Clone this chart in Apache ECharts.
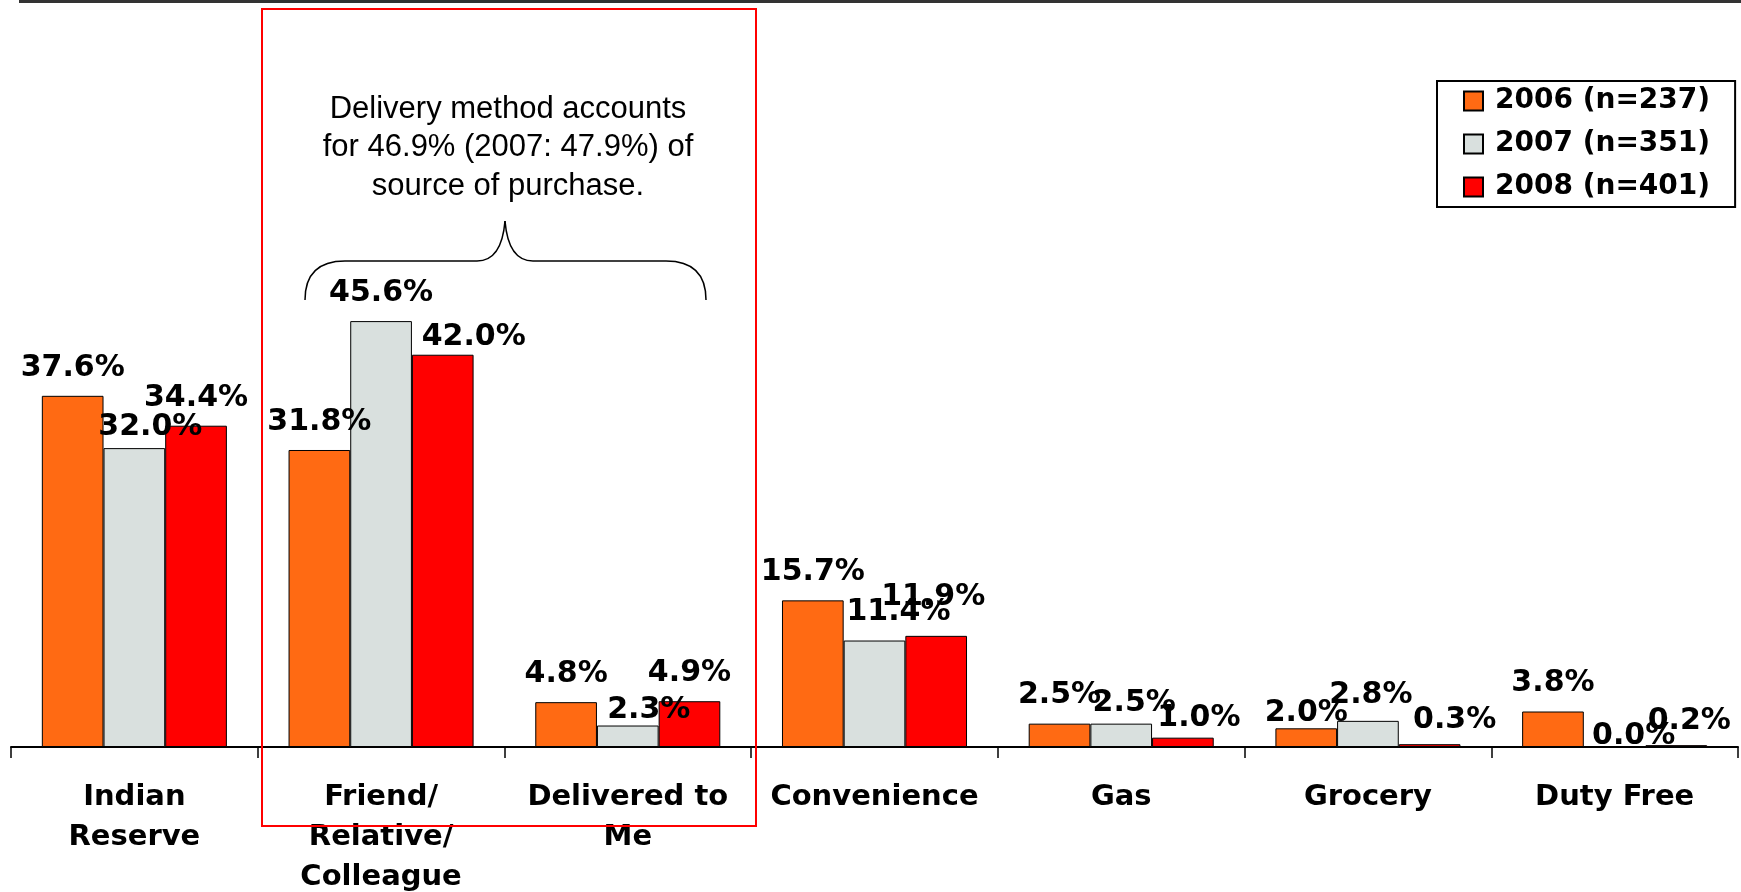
<!DOCTYPE html>
<html>
<head>
<meta charset="utf-8">
<script src="https://cdn.jsdelivr.net/npm/echarts@6/dist/echarts.min.js"></script>
<style>
  html, body { margin: 0; padding: 0; background: #fff; }
  #chart { width: 1741px; height: 892px; }
</style>
</head>
<body>
<div id="chart"></div>
<script>
const categories = ['Indian\nReserve', 'Friend/\nRelative/\nColleague', 'Delivered to\nMe', 'Convenience', 'Gas', 'Grocery', 'Duty Free']
const seriesNames = ['2006 (n=237)', '2007 (n=351)', '2008 (n=401)']
const values2006 = [37.6, 31.8, 4.8, 15.7, 2.5, 2.0, 3.8]
const values2007 = [32.0, 45.6, 2.3, 11.4, 2.5, 2.8, 0.0]
const values2008 = [34.4, 42.0, 4.9, 11.9, 1.0, 0.3, 0.2]
const noteLines = ['Delivery method accounts', 'for 46.9% (2007: 47.9%) of', 'source of purchase.']

// label nudges (px) so overlapping labels sit like in the original
const labelShift = [
  [[0, 0], [0, 0], [0, 0], [0, 0], [0, 0], [0, 13], [0, 0]],
  [[16, 7], [0, 0], [21, 13], [24, 0], [13, 8], [3, 2], [19, 18]],
  [[0, 0], [31, 10], [0, 0], [-3, -11], [16, 9], [25, 4], [13, 4]]
]
const colors = ['#FF6A13', '#D9E0DE', '#FF0000']

const chart = echarts.init(document.getElementById('chart'))

const makeSeries = (name, vals, idx) => ({
  name: name,
  type: 'bar',
  barGap: '0%',
  barCategoryGap: '25%',
  itemStyle: { color: colors[idx], borderColor: '#000', borderWidth: 1 },
  label: {
    show: true,
    position: 'top',
    distance: 13,
    formatter: p => p.value.toFixed(1) + '%',
    fontFamily: 'DejaVu Sans',
    fontWeight: 'bold',
    fontSize: 30,
    lineHeight: 30,
    color: '#000'
  },
  data: vals.map((v, i) => ({ value: v, label: { offset: labelShift[idx][i] } }))
})

// curly brace over the delivery-method group
const braceStyle = { fill: 'none', stroke: '#000', lineWidth: 1.5 }
const brace = [
  { type: 'bezierCurve', shape: { x1: 305, y1: 300, cpx1: 305, cpy1: 275, cpx2: 318, cpy2: 261, x2: 345, y2: 261 }, style: braceStyle },
  { type: 'line', shape: { x1: 345, y1: 261, x2: 477, y2: 261 }, style: braceStyle },
  { type: 'bezierCurve', shape: { x1: 477, y1: 261, cpx1: 495, cpy1: 261, cpx2: 503, cpy2: 245, x2: 505, y2: 221 }, style: braceStyle },
  { type: 'bezierCurve', shape: { x1: 505, y1: 221, cpx1: 507, cpy1: 245, cpx2: 515, cpy2: 261, x2: 533, y2: 261 }, style: braceStyle },
  { type: 'line', shape: { x1: 533, y1: 261, x2: 666, y2: 261 }, style: braceStyle },
  { type: 'bezierCurve', shape: { x1: 666, y1: 261, cpx1: 693, cpy1: 261, cpx2: 706, cpy2: 275, x2: 706, y2: 300 }, style: braceStyle }
]

const option = {
  animation: false,
  grid: { left: 11, right: 3, top: 280, bottom: 145, outerBoundsMode: 'none', containLabel: false },
  legend: {
    orient: 'vertical',
    left: 1437,
    top: 81,
    padding: [6, 25, 6, 26],
    itemGap: 15,
    itemWidth: 19,
    itemHeight: 19,
    borderColor: '#000',
    borderWidth: 2,
    icon: 'rect',
    textStyle: {
      fontFamily: 'DejaVu Sans',
      fontWeight: 'bold',
      fontSize: 28,
      lineHeight: 28,
      color: '#000',
      padding: [0, 0, 0, 7]
    },
    data: seriesNames
  },
  xAxis: {
    type: 'category',
    data: categories,
    axisLine: { lineStyle: { color: '#000', width: 2 } },
    axisTick: { show: true, length: 11, lineStyle: { color: '#000', width: 1.5 } },
    axisLabel: {
      interval: 0,
      margin: 30,
      fontFamily: 'DejaVu Sans',
      fontWeight: 'bold',
      fontSize: 29,
      lineHeight: 40,
      color: '#000',
      verticalAlign: 'top'
    }
  },
  yAxis: {
    type: 'value',
    min: 0,
    max: 50,
    show: false,
    splitLine: { show: false }
  },
  graphic: [
    {
      type: 'line',
      shape: { x1: 19, y1: 1.5, x2: 1741, y2: 1.5 },
      style: { stroke: '#333', lineWidth: 3 }
    },
    {
      type: 'rect',
      shape: { x: 262, y: 9, width: 494, height: 817 },
      style: { fill: 'none', stroke: '#FF0000', lineWidth: 2 },
      z: 10
    },
    {
      type: 'text',
      style: {
        x: 508,
        y: 90,
        text: noteLines.join('\n'),
        font: '31px "Liberation Sans", Arial, sans-serif',
        lineHeight: 38.5,
        textAlign: 'center',
        textVerticalAlign: 'top',
        fill: '#000'
      }
    }
  ].concat(brace),
  series: [
    makeSeries(seriesNames[0], values2006, 0),
    makeSeries(seriesNames[1], values2007, 1),
    makeSeries(seriesNames[2], values2008, 2)
  ]
}

chart.setOption(option)
</script>
</body>
</html>
